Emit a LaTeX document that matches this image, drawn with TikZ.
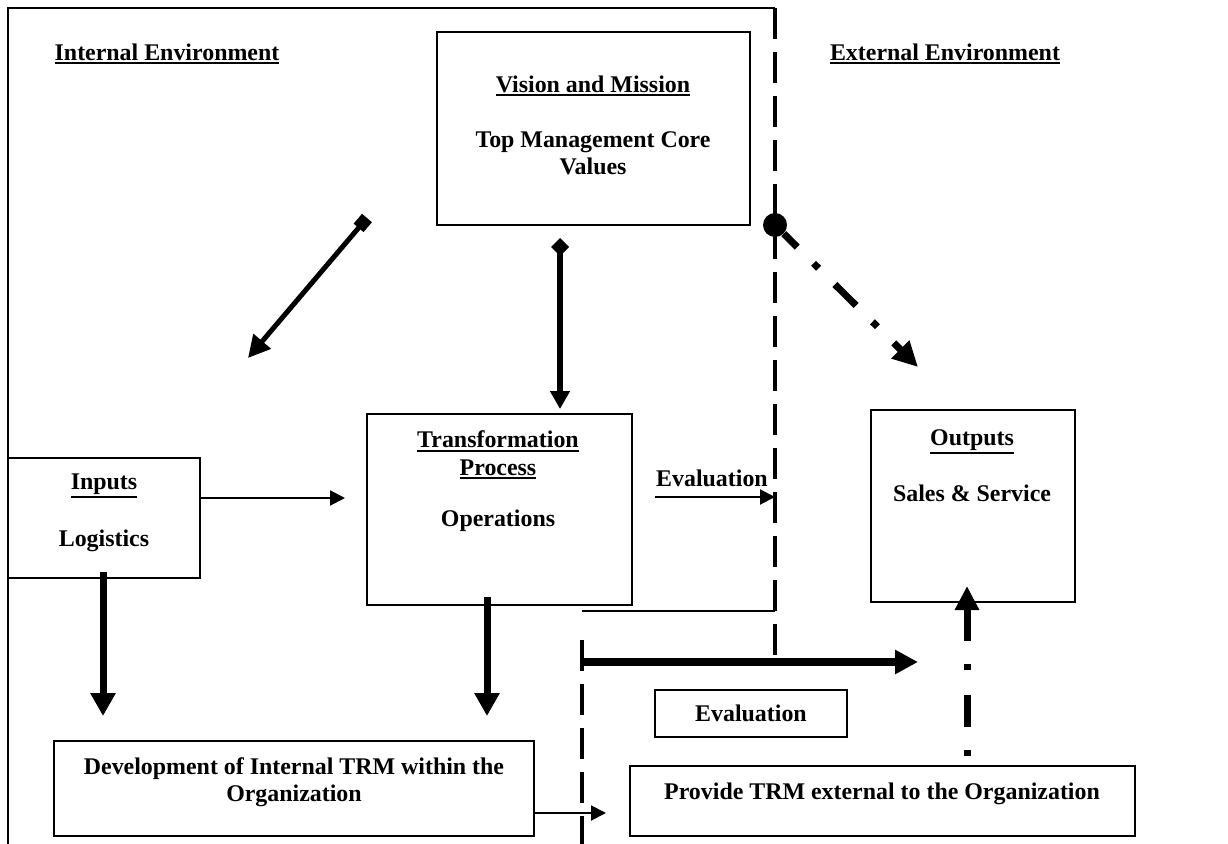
\documentclass[tikz,border=0pt]{standalone}
\usepackage{fontspec}
\setmainfont{Liberation Serif}
\usetikzlibrary{arrows.meta}
\newcommand\ulbf[1]{\setbox0\hbox{#1}\vtop{\copy0\kern1pt\hrule height 1pt}}
\begin{document}
\begin{tikzpicture}[x=0.2mm,y=-0.2mm,
    box/.style={draw,line width=1pt,inner sep=0pt},
    lbl/.style={font=\bfseries\fontsize{13.6}{15.5}\selectfont,inner sep=1pt,align=center},
    thinarrow/.style={line width=1.1pt,-{Triangle[length=3mm,width=3mm]}},
    fatarrow/.style={line width=1.4mm,-{Triangle[length=4.6mm,width=4.8mm]}},
    border/.style={line width=0.7mm,dash pattern=on 6.2mm off 2.6mm}]
\useasboundingbox (0,0) rectangle (1228,844);

% frame and the two borders
\coordinate (fbot) at (8,844);
\coordinate (ftop) at (8,8);
\coordinate (btop) at (775,8);
\coordinate (bmid) at (775,662);
\coordinate (ltop) at (582,640);
\coordinate (lbot) at (582,844);
\draw[line width=1pt] (fbot) -- (ftop) -- (btop);
\draw[border] (btop) -- (bmid);
\draw[border] (ltop) -- (lbot);

\node[lbl] (intenv) at (167,54) {\ulbf{Internal Environment}};
\node[lbl] (extenv) at (945,54) {\ulbf{External Environment}};

% boxes
\node[box,minimum width=62.6mm,minimum height=38.6mm] (vision) at (593.5,128.5) {};
\node[lbl] (visiontitle) at (593,86) {\ulbf{Vision and Mission}};
\node[lbl] (visiontext) at (593,153) {Top Management Core\\Values};

\node[box,minimum width=53mm,minimum height=38.2mm] (trans) at (499.5,509.5) {};
\node[lbl] (transtitle) at (498,455) {\ulbf{Transformation}\\\ulbf{Process}};
\node[lbl] (transtext) at (498,521) {Operations};

\node[box,minimum width=38.4mm,minimum height=24mm] (inputs) at (104,518) {};
\node[lbl] (inputstitle) at (104,486) {\ulbf{Inputs}};
\node[lbl] (inputstext) at (104,541) {Logistics};

\node[box,minimum width=40.8mm,minimum height=38.4mm] (outputs) at (973,506) {};
\node[lbl] (outputstitle) at (972,442) {\ulbf{Outputs}};
\node[lbl] (outputstext) at (972,493) {Sales \& Service};

\node[lbl] (evaltext) at (712,478) {Evaluation};
\node[box,lbl,minimum width=38.4mm,minimum height=9.4mm] (evalbox) at (751,713.5) {Evaluation};

\node[box,minimum width=96mm,minimum height=19mm] (develop) at (294,788.5) {};
\node[lbl] (developtext) at (294,782) {Development of Internal TRM within the\\Organization};

\node[box,minimum width=101mm,minimum height=14mm] (provide) at (882.5,801) {};
\node[lbl] (providetext) at (882,794) {Provide TRM external to the Organization};

% connectors
\coordinate (sqstart) at (367,218);
\coordinate (sqend) at (248,358);
\draw[line width=1mm,{Square[length=2.6mm,width=2.6mm]}-{Triangle[length=4.4mm,width=4.4mm]}] (sqstart) -- (sqend);

\coordinate (dmstart) at (560,238);
\coordinate (dmend) at (560,409);
\draw[line width=1.1mm,{Diamond[length=3.6mm,width=3.6mm]}-{Triangle[length=3.6mm,width=3.8mm]}] (dmstart) -- (dmend);

\node[circle,fill,minimum size=4.8mm,inner sep=0pt] (knob) at (775,225) {};
\coordinate (knobend) at (918,367);
\draw[line width=1.4mm,dash pattern=on 6mm off 4.6mm on 1.4mm off 4.6mm,dash phase=2.2mm,
      -{Triangle[length=5mm,width=4.8mm]}] (knob) -- (knobend);

\coordinate (instart) at (200,498);
\coordinate (inend) at (345,498);
\draw[thinarrow] (instart) -- (inend);

\coordinate (evalstart) at (655,497);
\coordinate (evalend) at (775,497);
\draw[thinarrow] (evalstart) -- (evalend);

\coordinate (tiestart) at (582,611);
\coordinate (tieend) at (775,611);
\draw[line width=0.9pt] (tiestart) -- (tieend);

\coordinate (inpdown) at (103,572);
\coordinate (inpend) at (103,716);
\draw[fatarrow] (inpdown) -- (inpend);
\coordinate (trdown) at (487,597);
\coordinate (trend) at (487,716);
\draw[fatarrow] (trdown) -- (trend);

\coordinate (outstart) at (582,662);
\coordinate (outend) at (918,662);
\draw[line width=1.5mm,-{Triangle[length=4.6mm,width=4.6mm]}] (outstart) -- (outend);

\coordinate (upstart) at (967,756);
\coordinate (upend) at (967,586);
\draw[line width=1.4mm,dash pattern=on 1.2mm off 4.6mm on 6.4mm off 5mm,
      -{Triangle[length=4.8mm,width=4.6mm]}] (upstart) -- (upend);

\coordinate (devstart) at (535,813);
\coordinate (devend) at (606,813);
\draw[thinarrow] (devstart) -- (devend);
\end{tikzpicture}
\end{document}
